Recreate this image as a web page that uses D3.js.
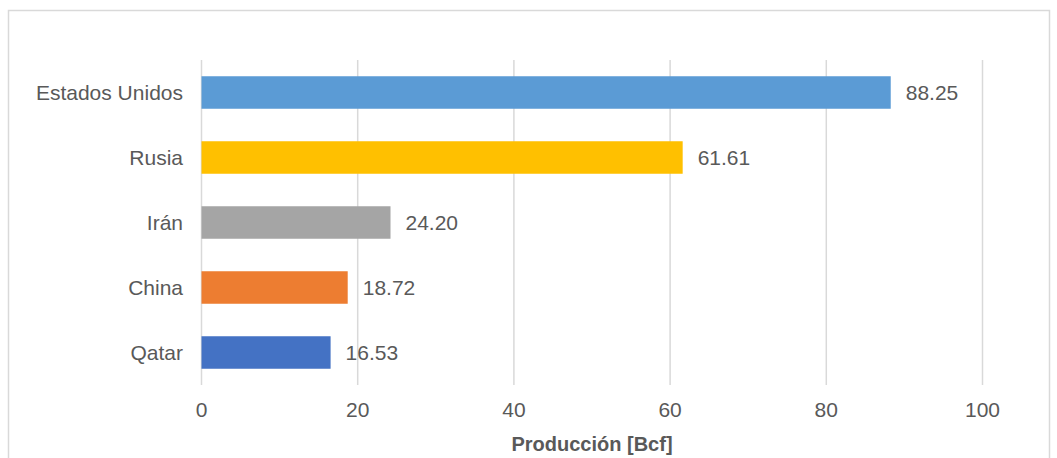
<!DOCTYPE html>
<html><head><meta charset="utf-8">
<script src="https://cdn.jsdelivr.net/npm/d3@7"></script>
<style>body{margin:0;background:#fff}svg{display:block;font-family:"Liberation Sans",Arial,sans-serif}</style>
</head><body><svg id="c" width="1057" height="458"></svg>
<script>
const categories = ["Estados Unidos","Rusia","Irán","China","Qatar"];
const values = [88.25, 61.61, 24.20, 18.72, 16.53];
const colors = ["#5b9bd5","#ffc000","#a5a5a5","#ed7d31","#4472c4"];
const tickValues = [0,20,40,60,80,100];
const xTitle = "Producción [Bcf]";

const svg = d3.select("#c");
svg.append("rect").attr("x",8.5).attr("y",10.5).attr("width",1041).attr("height",460)
  .attr("fill","#fff").attr("stroke","#d9d9d9").attr("stroke-width",1.5);

const x = d3.scaleLinear().domain([0,100]).range([201.5,982.5]);
const y = d3.scaleBand().domain(categories).range([60,385]).paddingInner(0.5).paddingOuter(0.25);

const g = svg.append("g");
g.selectAll("line.grid").data(tickValues).join("line").attr("class","grid")
  .attr("x1",d=>x(d)).attr("x2",d=>x(d)).attr("y1",60).attr("y2",385)
  .attr("stroke","#d9d9d9").attr("stroke-width",1.5);

g.selectAll("rect.bar").data(values).join("rect").attr("class","bar")
  .attr("x",x(0)).attr("y",(d,i)=>y(categories[i])).attr("width",d=>x(d)-x(0))
  .attr("height",y.bandwidth()).attr("fill",(d,i)=>colors[i]);

const fs = 21;
g.selectAll("text.val").data(values).join("text").attr("class","val")
  .attr("x",d=>x(d)+15).attr("y",(d,i)=>y(categories[i])+y.bandwidth()/2)
  .attr("dy","0.35em").attr("font-size",fs).attr("fill","#595959").text(d=>d.toFixed(2));

g.selectAll("text.cat").data(categories).join("text").attr("class","cat")
  .attr("x",183).attr("y",d=>y(d)+y.bandwidth()/2).attr("dy","0.35em")
  .attr("text-anchor","end").attr("font-size",fs).attr("fill","#595959").text(d=>d);

g.selectAll("text.tick").data(tickValues).join("text").attr("class","tick")
  .attr("x",d=>x(d)).attr("y",417).attr("text-anchor","middle")
  .attr("font-size",fs).attr("fill","#595959").text(d=>d);

svg.append("text").attr("x",x(50)).attr("y",451).attr("text-anchor","middle")
  .attr("font-size",20).attr("font-weight","bold").attr("fill","#595959").text(xTitle);
</script></body></html>
